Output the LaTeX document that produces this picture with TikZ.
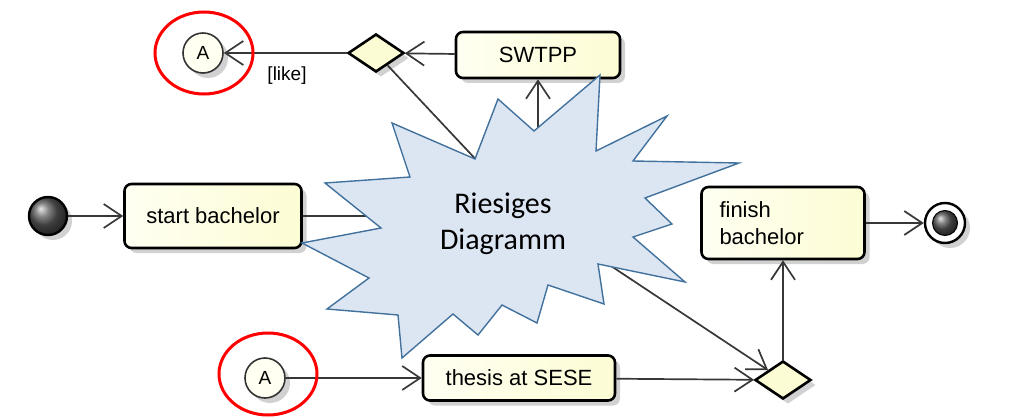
\documentclass[tikz,border=0pt]{standalone}
\usepackage{fontspec}
\usepackage{tikz}
\usetikzlibrary{arrows.meta, positioning, shapes.geometric, shadows}
\newfontfamily\umlfont{Liberation Sans}
\newfontfamily\calloutfont{Carlito}

\definecolor{actfill}{RGB}{252,252,212}
\definecolor{actlight}{RGB}{255,255,242}
\definecolor{calloutfill}{RGB}{220,230,242}
\definecolor{calloutdraw}{RGB}{65,113,156}
\definecolor{wire}{RGB}{55,55,55}

\begin{document}
\begin{tikzpicture}[
    x=1pt, y=-1pt,
    softshadow/.style={
      drop shadow={shadow xshift=5pt, shadow yshift=-5pt, fill=black!18, opacity=1}
    },
    act/.style={
      rectangle,
      rounded corners=7pt,
      draw=black,
      line width=2.6pt,
      left color=actlight,
      right color=actfill,
      font=\umlfont\fontsize{22}{27}\selectfont,
      inner sep=0pt,
      softshadow
    },
    choice/.style={
      diamond,
      draw=black,
      line width=2.6pt,
      fill=actfill,
      inner sep=0pt,
      minimum width=56pt,
      minimum height=38pt,
      softshadow
    },
    conn/.style={
      circle,
      draw=black!80,
      line width=1.6pt,
      fill=actlight,
      minimum size=40pt,
      inner sep=0pt,
      font=\umlfont\fontsize{19}{22}\selectfont,
      softshadow
    },
    flow/.style={
      draw=wire,
      line width=1.7pt,
      -{Straight Barb[length=18pt, width=24pt, line width=1.7pt]}
    },
    wireline/.style={draw=wire, line width=1.7pt},
    burst/.style={
      draw=calloutdraw,
      fill=calloutfill,
      line width=1.4pt
    },
    hilite/.style={draw=red, line width=3pt}
]
  \useasboundingbox (0,0) rectangle (1023,420);

  % Start / end
  \node[circle, draw=black, line width=2.4pt, ball color=black!65,
        minimum size=38pt, inner sep=0pt, softshadow] (start) at (48,216) {};
  \node[circle, draw=black, line width=2.4pt, fill=white,
        minimum size=40pt, inner sep=0pt, softshadow] (final) at (945,223) {};
  \node[circle, draw=black, line width=1pt, ball color=black!65,
        minimum size=25pt, inner sep=0pt] (finaldot) at (final) {};

  % Activities
  \node[act, minimum width=177pt, minimum height=64pt] (startbox) at (213,216) {start bachelor};
  \node[act, minimum width=164pt, minimum height=46pt] (swtpp) at (538,55) {SWTPP};
  \node[act, minimum width=192pt, minimum height=45pt] (thesis) at (519,378) {thesis at SESE};
  \node[act, minimum width=163pt, minimum height=72pt, align=left,
        text width=127pt] (finish) at (783,223) {finish\\bachelor};

  % Decisions and connectors
  \node[choice] (topdia) at (376,53) {};
  \node[choice] (botdia) at (783,380) {};
  \node[conn] (topA) at (203,53) {A};
  \node[conn] (botA) at (265,378) {A};
  \node[font=\umlfont\fontsize{19}{22}\selectfont] (like) at (287,76) {[like]};

  % Ends hidden under the callout
  \coordinate (hubW)  at (385,216);
  \coordinate (hubN)  at (538,140);
  \coordinate (hubNW) at (482,166);
  \coordinate (hubSE) at (605,262);

  % Connecting arrows
  \draw[flow] (start) -- (startbox);
  \draw[wireline] (startbox) -- (hubW);
  \draw[flow] (hubN) -- (swtpp);
  \draw[flow] (swtpp) -- (topdia);
  \draw[flow] (topdia) -- (topA);
  \draw[wireline] (topdia) -- (hubNW);
  \draw[flow] (botA) -- (thesis);
  \draw[flow] (thesis) -- (botdia);
  \draw[flow] (hubSE) -- (botdia);
  \draw[flow] (botdia) -- (finish);
  \draw[flow] (finish) -- (final);

  % Callout
  \draw[burst] (498,99) -- (534,131) -- (600,75) -- (596,151) -- (667,116)
    -- (633,161) -- (739,163) -- (645,198) -- (672,224) -- (633,237)
    -- (685,282) -- (598,264) -- (604,304) -- (548,285) -- (537,323)
    -- (502,305) -- (478,335) -- (453,314) -- (402,358) -- (398,315)
    -- (327,309) -- (369,278) -- (302,243) -- (381,228) -- (325,183)
    -- (410,177) -- (392,123) -- (475,159) -- cycle;
  \node[font=\calloutfont\fontsize{30}{36}\selectfont, align=center] (callout)
    at (503,224) {Riesiges\\Diagramm};

  % Highlights
  \draw[hilite] ([xshift=1pt]topA) ellipse [x radius=49pt, y radius=41pt];
  \draw[hilite] ([xshift=3pt, yshift=4pt]botA) ellipse [x radius=49pt, y radius=41pt];
\end{tikzpicture}
\end{document}
